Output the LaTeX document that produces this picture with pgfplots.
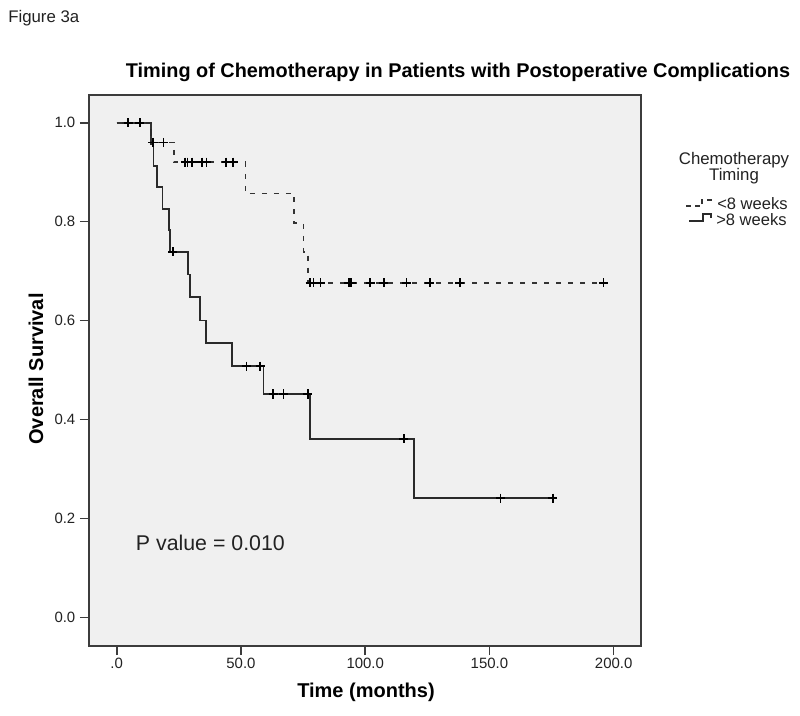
\documentclass[border=0pt]{standalone}
\usepackage{fontspec}
\setmainfont{Liberation Sans}
\usepackage{pgfplots}
\pgfplotsset{compat=1.18}
\definecolor{bgc}{HTML}{F0F0F0}
\definecolor{framec}{HTML}{3C3C3C}
\definecolor{solidc}{HTML}{2A2A2A}
\definecolor{dashc}{HTML}{333333}
\definecolor{txtc}{HTML}{222222}
\begin{document}
\begin{tikzpicture}[x=0.75pt,y=-0.75pt]
\path[use as bounding box, fill=white] (0,0) rectangle (800,715);
\begin{axis}[
  at={(66.75pt,-484.5pt)}, anchor=south west,
  scale only axis, width=414pt, height=413.25pt,
  xmin=-11.15, xmax=211, ymin=-0.058, ymax=1.056,
  axis background/.style={fill=bgc},
  axis line style={framec, line width=1.4pt},
  xtick={0,50,100,150,200}, xticklabels={.0,50.0,100.0,150.0,200.0},
  ytick={0,0.2,0.4,0.6,0.8,1.0}, yticklabels={0.0,0.2,0.4,0.6,0.8,1.0},
  tick align=outside, xtick pos=bottom, ytick pos=left,
  major tick length=6.75pt,
  tick style={framec, line width=1.2pt},
  ticklabel style={font=\fontsize{11.2}{13}\selectfont, text=txtc},
  xticklabel style={yshift=1.5pt},
  /pgf/number format/assume math mode=true,
]
% >8 weeks (solid)
\addplot[const plot, solidc, line width=1.35pt] coordinates {
(0,1)(13.9,0.9565)(14.8,0.913)(16.2,0.870)(18.4,0.826)(20.9,0.783)(21.6,0.739)
(28.7,0.693)(29.6,0.647)(33.6,0.600)(35.8,0.554)(46.4,0.508)(59.1,0.4515)
(77.7,0.361)(119.6,0.241)(175.5,0.241)};
\addplot[only marks, mark=+, mark size=3.4pt, black, line width=1.2pt] coordinates {
(22.6,0.739)(52.2,0.508)(57.7,0.508)(63.0,0.4515)(67.2,0.4515)(76.9,0.4515)
(115.5,0.361)(154.5,0.241)(175.5,0.241)};
% <8 weeks (dashed)
\addplot[const plot, dashc, line width=1.35pt, dash pattern=on 3.75pt off 5.25pt] coordinates {
(0,1)(13.9,0.96)(22.9,0.92)(51.8,0.857)(71.5,0.797)(75.2,0.738)(76.9,0.676)(195.9,0.676)};
\addplot[only marks, mark=+, mark size=3.4pt, black, line width=1.2pt] coordinates {
(4.6,1)(9.3,1)(14.6,0.96)(18.9,0.96)(27.6,0.92)(28.5,0.92)(30.3,0.92)(34.3,0.92)
(36.1,0.92)(44.1,0.92)(46.8,0.92)(77.9,0.676)(79.2,0.676)(82.0,0.676)(93.4,0.676)
(94.3,0.676)(102.0,0.676)(107.5,0.676)(116.6,0.676)(126.0,0.676)(138.1,0.676)(195.9,0.676)};
\node[font=\fontsize{16}{19}\selectfont, text=txtc] at (axis cs:37.7,0.15) {P value = 0.010};
\end{axis}
\node[anchor=west, inner sep=0pt, font=\fontsize{12.6}{15}\selectfont, text=txtc] at (8,18) {Figure 3a};
\node[font=\fontsize{14.9}{18}\selectfont\bfseries, text=black] at (458,72) {Timing of Chemotherapy in Patients with Postoperative Complications};
\node[rotate=90, font=\fontsize{15}{18}\selectfont\bfseries, text=black] at (36,369) {Overall Survival};
\node[font=\fontsize{15}{18}\selectfont\bfseries, text=black] at (366,692) {Time (months)};
% legend
\node[font=\fontsize{12.6}{15}\selectfont, text=txtc] at (734,160) {Chemotherapy};
\node[font=\fontsize{12.6}{15}\selectfont, text=txtc] at (734,176) {Timing};
\node[anchor=west, inner sep=0pt, font=\fontsize{12.4}{15}\selectfont, text=txtc] at (717,204) {<8 weeks};
\node[anchor=west, inner sep=0pt, font=\fontsize{12.4}{15}\selectfont, text=txtc] at (716,220) {>8 weeks};
\draw[dashc, line width=1.2pt, dash pattern=on 3.75pt off 3pt] (686,206)--(702,206)--(702,200)--(711,200)--(711,204);
\draw[solidc, line width=1.3pt] (689,221)--(703,221)--(703,214)--(711,214)--(711,218);
\end{tikzpicture}
\end{document}
